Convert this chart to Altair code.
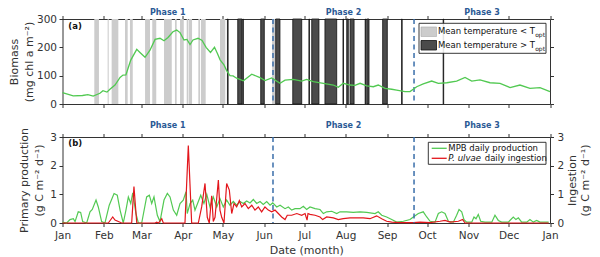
import altair as alt
import pandas as pd

# ---------------- data ----------------
month_names = ["Jan", "Feb", "Mar", "Apr", "May", "Jun", "Jul", "Aug", "Sep", "Oct", "Nov", "Dec", "Jan"]
month_days = [0, 31, 59, 90, 120, 151, 181, 212, 243, 273, 304, 334, 365]

phase_names = ["Phase 1", "Phase 2", "Phase 3"]
phase_bounds = [0, 157.6, 263.2, 365]

light_start = [23.8, 33.8, 36.8, 46.8, 50.5, 61.8, 67.2, 76.0, 84.2, 88.0, 93.0, 94.7, 101.7, 103.7, 117.9, 156.9]
light_end = [27.3, 34.6, 41.8, 48.8, 52.6, 65.5, 70.2, 81.8, 85.5, 90.8, 94.3, 97.0, 103.0, 107.2, 121.9, 159.1]

dark_start = [123.5, 131.2, 135.0, 148.4, 159.6, 172.4, 184.5, 186.6, 196.5, 210.0, 212.8, 215.3, 226.6, 227.8, 239.7, 253.9, 285.0]
dark_end = [124.0, 134.4, 135.4, 151.1, 162.8, 179.1, 184.9, 192.0, 205.3, 210.4, 214.0, 218.3, 227.0, 229.5, 243.2, 254.3, 285.4]

biomass_day = [0, 8, 15, 19, 23, 28, 30.3, 33.3, 35.5, 39.3, 43.1, 45.3, 47.5, 51.1, 55.6, 58, 61.8, 65.5, 69.3, 73,
               76, 79, 82.7, 85.5, 88, 91, 93.2, 95.5, 97.7, 101.5, 104.5, 107.5, 110.8, 113.8, 116, 118, 120.9, 122.9,
               125.4, 127.7, 130.4, 135.4, 141.7, 147.9, 151.6, 156.6, 162.9, 166.6, 172.8, 179.1, 182.8, 187.8, 195.3,
               202.8, 206.5, 210.2, 215.3, 219, 222.8, 227.8, 232.7, 236.4, 241.5, 246.5, 250.2, 256.4, 260.2, 265.2,
               270.1, 276.4, 281.4, 287.7, 295.1, 301.4, 306.4, 312.6, 320.1, 327.6, 335.1, 342.5, 350, 357.5, 365]
biomass_val = [40, 29, 30, 33, 28, 38, 47, 42, 52, 67, 94, 102, 103, 155, 193, 182, 165, 190, 228, 232,
               223, 235, 255, 261, 252, 226, 228, 210, 226, 232, 224, 200, 182, 200, 178, 156, 138, 118,
               100, 99, 91, 82, 105, 93, 83, 92, 73, 84, 87, 81, 87, 79, 73,
               67, 59, 73, 67, 66, 73, 64, 61, 67, 55, 52, 49, 44, 44, 61,
               71, 81, 73, 75, 81, 94, 81, 85, 75, 73, 58, 67, 55, 58, 44]

prod_day = [0, 3.1, 5.6, 8.1, 9.4, 11.8, 13.6, 15.1, 18.1, 20.6, 22.3, 25.1, 26.8, 29.3, 31.8, 35, 38.6, 41, 43.1,
            45.5, 47.5, 49.3, 51.1, 52.6, 55, 56.8, 59.3, 63, 65, 66.8, 68.5, 71, 73, 76, 78.5, 80.5, 83, 85.5, 88,
            90.4, 92.5, 93.4, 95.5, 97.5, 99.2, 101.7, 103.5, 105.9, 108, 110.4, 112.9, 115.5, 117.9, 120.4, 122.9,
            125.4, 127.9, 130.4, 132.9, 135.4, 137.9, 140.4, 142.9, 145.4, 147.9, 150.3, 152.9, 155.4, 157.4, 160.4,
            162.9, 166.6, 169.1, 171.6, 174.1, 177.8, 180.3, 182.8, 185.3, 189.1, 192.8, 195.3, 197.8, 201.6, 205.3,
            207.8, 212.8, 217.7, 222.8, 227.8, 234, 236.4, 239, 242.7, 246.5, 250.2, 255.2, 260.2, 262.7, 266.4,
            270.1, 272.7, 275.2, 278.9, 281.4, 283.9, 286.4, 288.9, 292.6, 295.1, 296.9, 298.9, 300.6, 302.6, 306.4,
            308.1, 309.6, 311.3, 313.1, 316.3, 321.4, 323.8, 326.3, 328.8, 333.8, 337.5, 339.5, 341.3, 343.8, 347.6,
            350, 352.5, 355, 357.5, 364]
prod_val = [0.03, 0.0, 0.12, 0.15, 0.05, 0.39, 0.37, 0.05, 0.0, 0.39, 0.47, 0.8, 0.56, 0.05, 0.0, 0.62, 1.03, 0.97, 0.45,
            0.0, 0.45, 0.91, 0.68, 1.05, 0.33, 0.0, 0.0, 0.91, 0.97, 0.68, 0.91, 0.27, 0.05, 0.8, 1.03, 0.91, 0.45, 0.27, 0.68,
            0.8, 1.09, 0.33, 0.68, 0.8, 0.45, 0.75, 0.97, 0.68, 1.0, 0.56, 0.91, 0.56, 0.85, 0.56, 0.8,
            0.62, 0.75, 0.62, 0.75, 0.68, 0.77, 0.7, 0.82, 0.68, 0.75, 0.65, 0.75, 0.62, 0.7, 0.56,
            0.62, 0.5, 0.56, 0.45, 0.5, 0.5, 0.58, 0.47, 0.56, 0.5, 0.47, 0.33, 0.39, 0.41, 0.33,
            0.39, 0.39, 0.37, 0.39, 0.37, 0.33, 0.39, 0.27, 0.21, 0.12, 0.03, 0.06, 0.12, 0.21, 0.33,
            0.39, 0.21, 0.06, 0.03, 0.33, 0.39, 0.33, 0.06, 0.03, 0.27, 0.47, 0.39, 0.12, 0.03, 0.03,
            0.21, 0.15, 0.3, 0.06, 0.03, 0.03, 0.27, 0.09, 0.03, 0.03, 0.21, 0.12, 0.18, 0.03, 0.03,
            0.12, 0.03, 0.09, 0.03, 0.03]

ing_day = [0, 34.3, 37.6, 39.3, 41.8, 44.3, 51.8, 53.5, 55.6, 69.3, 70.5, 71.9, 74.3, 75.5, 91.7, 94.2, 96.7, 101.7,
           104.2, 106.7, 108.4, 109.9, 111.7, 112.9, 114.2, 116.7, 117.9, 119.2, 120.9, 122.9, 124.9, 126.7, 128.4,
           130.4, 132.4, 134.2, 136.6, 139.1, 141.7, 144.1, 146.6, 149.1, 151.6, 154.1, 156.6, 159.1, 161.6, 164.1,
           166.6, 168.3, 171.6, 175.4, 179.1, 181.6, 183.1, 183.8, 185.3, 189.1, 192.8, 194.8, 197.8, 202.8, 206.5,
           210.2, 215.3, 220.3, 225.2, 230.2, 235.2, 239, 242.7, 246.5, 252.7, 262.7, 267.7, 275.2, 282.7, 286.4,
           290.2, 296.4, 299.6, 301.4, 364]
ing_val = [0, 0, 0.21, 0.1, 0.05, 0, 0, 1.27, 0, 0, 0.03, 0, 0.15, 0, 0, 2.7, 0, 0,
           0.56, 1.38, 0.2, 0, 0.95, 0.05, 0.2, 1.5, 0.45, 0.2, 0, 1.38, 1.15, 0.33, 0.68,
           0.56, 0.78, 0.56, 0.68, 0.5, 0.62, 0.45, 0.56, 0.39, 0.56, 0.45, 0.39, 0.45, 0.33, 0.21,
           0.12, 0.27, 0.27, 0.33, 0.27, 0.33, 0.1, 0.33, 0.3, 0.27, 0.21, 0.12, 0.21, 0.18, 0.12,
           0.15, 0.18, 0.18, 0.18, 0.15, 0.25, 0.15, 0.06, 0.03, 0.01, 0.01, 0.03, 0.01, 0.06, 0.09,
           0.03, 0.06, 0.12, 0, 0]

# ---------------- layout / style ----------------
W, H = 487.5, 204
TOP = 85          # height of panel (a)
B0 = 118          # top of panel (b)
FONT = "DejaVu Sans"
AX = "#333333"
GREEN = "#52c952"
RED = "#e3161c"
BLUE = "#3a6eaa"
PHASE_C = "#2b5a95"

light_df = pd.DataFrame({"start": light_start, "end": light_end})
dark_df = pd.DataFrame({"start": dark_start, "end": dark_end})
bio_df = pd.DataFrame({"day": biomass_day, "biomass": biomass_val})
prod_df = pd.DataFrame({"day": prod_day, "prod": prod_val})
ing_df = pd.DataFrame({"day": ing_day, "ing": ing_val})
phase_line_df = pd.DataFrame({"day": phase_bounds[1:3]})
phase_df = pd.DataFrame({
    "name": phase_names,
    "mid": [(phase_bounds[i] + phase_bounds[i + 1]) / 2 for i in range(3)],
})
one = pd.DataFrame({"k": [0]})

xscale = alt.Scale(domain=[0, 365], nice=False, zero=False)
label_expr = ("[" + ",".join(f"'{m}'" for m in month_names) + "][indexof(["
              + ",".join(str(d) for d in month_days) + "], datum.value)]")


def xaxis(orient, offset, labels=False, title=None):
    kw = dict(orient=orient, offset=offset, values=month_days, labels=labels, ticks=True,
              tickSize=3.5, tickColor=AX, tickWidth=1, domain=True, domainColor=AX,
              domainWidth=1, grid=False, labelFlush=False, labelOverlap=False)
    if labels:
        kw.update(labelExpr=label_expr, labelFont=FONT, labelFontSize=10.5,
                  labelColor=AX, labelPadding=4)
    if title:
        kw.update(title=title, titleFont=FONT, titleFontSize=11, titleFontWeight="normal",
                  titleColor=AX, titlePadding=3)
    else:
        kw.update(title=None)
    return alt.Axis(**kw)


def yaxis(orient, values, labels=False, title=None, baseline="bottom", tpad=2, lh=14,
          tx=None, ty=None, lpad=2.5):
    kw = dict(orient=orient, values=values, labels=labels, ticks=True, tickSize=3.5,
              tickColor=AX, tickWidth=1, domain=True, domainColor=AX, domainWidth=1,
              grid=False, labelFlush=False, labelOverlap=False)
    if labels:
        kw.update(labelFont=FONT, labelFontSize=10.5, labelColor=AX, labelPadding=lpad)
    if title:
        kw.update(title=title, titleFont=FONT, titleFontSize=11, titleFontWeight="normal",
                  titleColor=AX, titlePadding=tpad, titleAngle=270, titleBaseline=baseline,
                  titleLineHeight=lh)
        if tx is not None:
            kw.update(titleX=tx, titleY=ty, titleAlign="center")
    else:
        kw.update(title=None)
    return alt.Axis(**kw)


top_y = alt.Scale(domain=[0, 300], range=[TOP, 0], nice=False, zero=False)
bot_y = alt.Scale(domain=[0, 3], range=[H, B0], nice=False, zero=False)

# ---------------- panel (a) ----------------
light = alt.Chart(light_df).mark_rect(color="#cccccc").encode(
    x=alt.X("start:Q", scale=xscale, axis=xaxis("top", 0)),
    x2="end:Q",
    y=alt.YDatum(0, type="quantitative", scale=top_y,
                 axis=yaxis("right", [0, 100, 200, 300])),
    y2=alt.Y2Datum(300),
)

dark = alt.Chart(dark_df).mark_rect(color="#4b4b4b", stroke="#111111", strokeWidth=0.8).encode(
    x=alt.X("start:Q", scale=xscale, axis=None),
    x2="end:Q",
    y=alt.value(0),
    y2=alt.value(TOP),
)

phase_top = alt.Chart(phase_line_df).mark_rule(color=BLUE, strokeDash=[5, 3.5], strokeWidth=1.5).encode(
    x=alt.X("day:Q", scale=xscale, axis=None),
    y=alt.value(0),
    y2=alt.value(TOP),
)

biomass = alt.Chart(bio_df).mark_line(color=GREEN, strokeWidth=1.3).encode(
    x=alt.X("day:Q", scale=xscale, axis=xaxis("bottom", TOP - H)),
    y=alt.Y("biomass:Q", scale=top_y,
            axis=yaxis("left", [0, 100, 200, 300], labels=True,
                       title=["Biomass", "(mg chl a m⁻²)"], tpad=2, lh=15)),
)

# ---------------- panel (b) ----------------
prod = alt.Chart(prod_df).mark_line(color=GREEN, strokeWidth=1.2).encode(
    x=alt.X("day:Q", scale=xscale, axis=xaxis("bottom", 0, labels=True, title="Date (month)")),
    y=alt.Y("prod:Q", scale=bot_y,
            axis=yaxis("left", [0, 1, 2, 3], labels=True,
                       title=["Primary production", "(g C m⁻² d⁻¹)"], tpad=5, lh=15)),
)

ing = alt.Chart(ing_df).mark_line(color=RED, strokeWidth=1.2).encode(
    x=alt.X("day:Q", scale=xscale, axis=xaxis("top", -B0)),
    y=alt.Y("ing:Q", scale=bot_y,
            axis=yaxis("right", [0, 1, 2, 3], labels=True, lpad=3.5,
                       title=["Ingestion", "(g C m⁻² d⁻¹)"], baseline="top", lh=13,
                       tx=16, ty=(B0 + H) / 2)),
)

phase_bot = alt.Chart(phase_line_df).mark_rule(color=BLUE, strokeDash=[5, 3.5], strokeWidth=1.5).encode(
    x=alt.X("day:Q", scale=xscale, axis=None),
    y=alt.value(B0),
    y2=alt.value(H),
)

# phase labels
phase_txt_top = alt.Chart(phase_df).mark_text(
    font=FONT, fontSize=8, fontWeight="bold", color=PHASE_C, baseline="alphabetic").encode(
    x=alt.X("mid:Q", scale=xscale, axis=None), y=alt.value(-4.5), text="name:N")
phase_txt_bot = alt.Chart(phase_df).mark_text(
    font=FONT, fontSize=8, fontWeight="bold", color=PHASE_C, baseline="alphabetic").encode(
    x=alt.X("mid:Q", scale=xscale, axis=None), y=alt.value(B0 - 8.7), text="name:N")

# panel tags
tag_a = alt.Chart(one).mark_text(text="(a)", font=FONT, fontSize=8.5, fontWeight="bold",
                                 color="#111", align="left", baseline="middle").encode(
    x=alt.value(5.8), y=alt.value(6.5))
tag_b = alt.Chart(one).mark_text(text="(b)", font=FONT, fontSize=8.5, fontWeight="bold",
                                 color="#111", align="left", baseline="middle").encode(
    x=alt.value(5.8), y=alt.value(B0 + 6.3))

# ---------------- legends (drawn by hand for the subscripts / italics) ----------------
LF = 8.5
leg_a_box = alt.Chart(one).mark_rect(fill="white", fillOpacity=0.88, stroke="#222222", strokeWidth=0.9).encode(
    x=alt.value(356.5), x2=alt.value(483.5), y=alt.value(4.3), y2=alt.value(34.3))
sw_light = alt.Chart(one).mark_rect(fill="#cccccc", stroke="#aaaaaa", strokeWidth=0.6).encode(
    x=alt.value(358.5), x2=alt.value(374), y=alt.value(8), y2=alt.value(17.5))
sw_dark = alt.Chart(one).mark_rect(fill="#4b4b4b", stroke="#111111", strokeWidth=0.8).encode(
    x=alt.value(358.5), x2=alt.value(374), y=alt.value(21.5), y2=alt.value(31))
leg_t1 = alt.Chart(one).mark_text(text="Mean temperature < T", font=FONT, fontSize=LF, color="#111",
                                  align="left", baseline="middle").encode(x=alt.value(375.5), y=alt.value(12.3))
leg_t2 = alt.Chart(one).mark_text(text="Mean temperature > T", font=FONT, fontSize=LF, color="#111",
                                  align="left", baseline="middle").encode(x=alt.value(375.5), y=alt.value(26.3))
sub_w = 11.435 * LF
leg_s1 = alt.Chart(one).mark_text(text="opt", font=FONT, fontSize=6, color="#111",
                                  align="left", baseline="middle").encode(x=alt.value(375.5 + sub_w), y=alt.value(15.8))
leg_s2 = alt.Chart(one).mark_text(text="opt", font=FONT, fontSize=6, color="#111",
                                  align="left", baseline="middle").encode(x=alt.value(375.5 + sub_w), y=alt.value(29.8))

leg_b_box = alt.Chart(one).mark_rect(fill="white", fillOpacity=0.88, stroke="#222222", strokeWidth=0.9).encode(
    x=alt.value(365.8), x2=alt.value(483.5), y=alt.value(B0 + 5.3), y2=alt.value(B0 + 27.3))
sw_green = alt.Chart(one).mark_rule(color=GREEN, strokeWidth=1.3).encode(
    x=alt.value(369.2), x2=alt.value(384.2), y=alt.value(B0 + 11.3))
sw_red = alt.Chart(one).mark_rule(color=RED, strokeWidth=1.3).encode(
    x=alt.value(369.2), x2=alt.value(384.2), y=alt.value(B0 + 21.3))
leg_g = alt.Chart(one).mark_text(text="MPB daily production", font=FONT, fontSize=LF, color="#111",
                                 align="left", baseline="middle").encode(x=alt.value(385.8), y=alt.value(B0 + 11.3))
leg_r1 = alt.Chart(one).mark_text(text="P. ulvae", font=FONT, fontSize=LF, fontStyle="italic", color="#111",
                                  align="left", baseline="middle").encode(x=alt.value(385.8), y=alt.value(B0 + 21.3))
leg_r2 = alt.Chart(one).mark_text(text="daily ingestion", font=FONT, fontSize=LF, color="#111",
                                  align="left", baseline="middle").encode(
    x=alt.value(385.8 + (3.971 + 0.318) * LF), y=alt.value(B0 + 21.3))

chart = alt.layer(
    light, dark, phase_top, biomass,
    leg_a_box, sw_light, sw_dark, leg_t1, leg_t2, leg_s1, leg_s2,
    prod, ing, phase_bot,
    leg_b_box, sw_green, sw_red, leg_g, leg_r1, leg_r2,
    phase_txt_top, phase_txt_bot, tag_a, tag_b,
).resolve_scale(
    y="independent"
).resolve_axis(
    x="independent", y="independent"
).properties(
    width=W, height=H,
    padding={"left": 54.5, "top": 11, "right": 42, "bottom": 34},
    autosize=alt.AutoSizeParams(type="none"),
    background="white",
).configure_view(stroke=None)

chart.save("out.html", embed_options={"renderer": "svg", "actions": False})
